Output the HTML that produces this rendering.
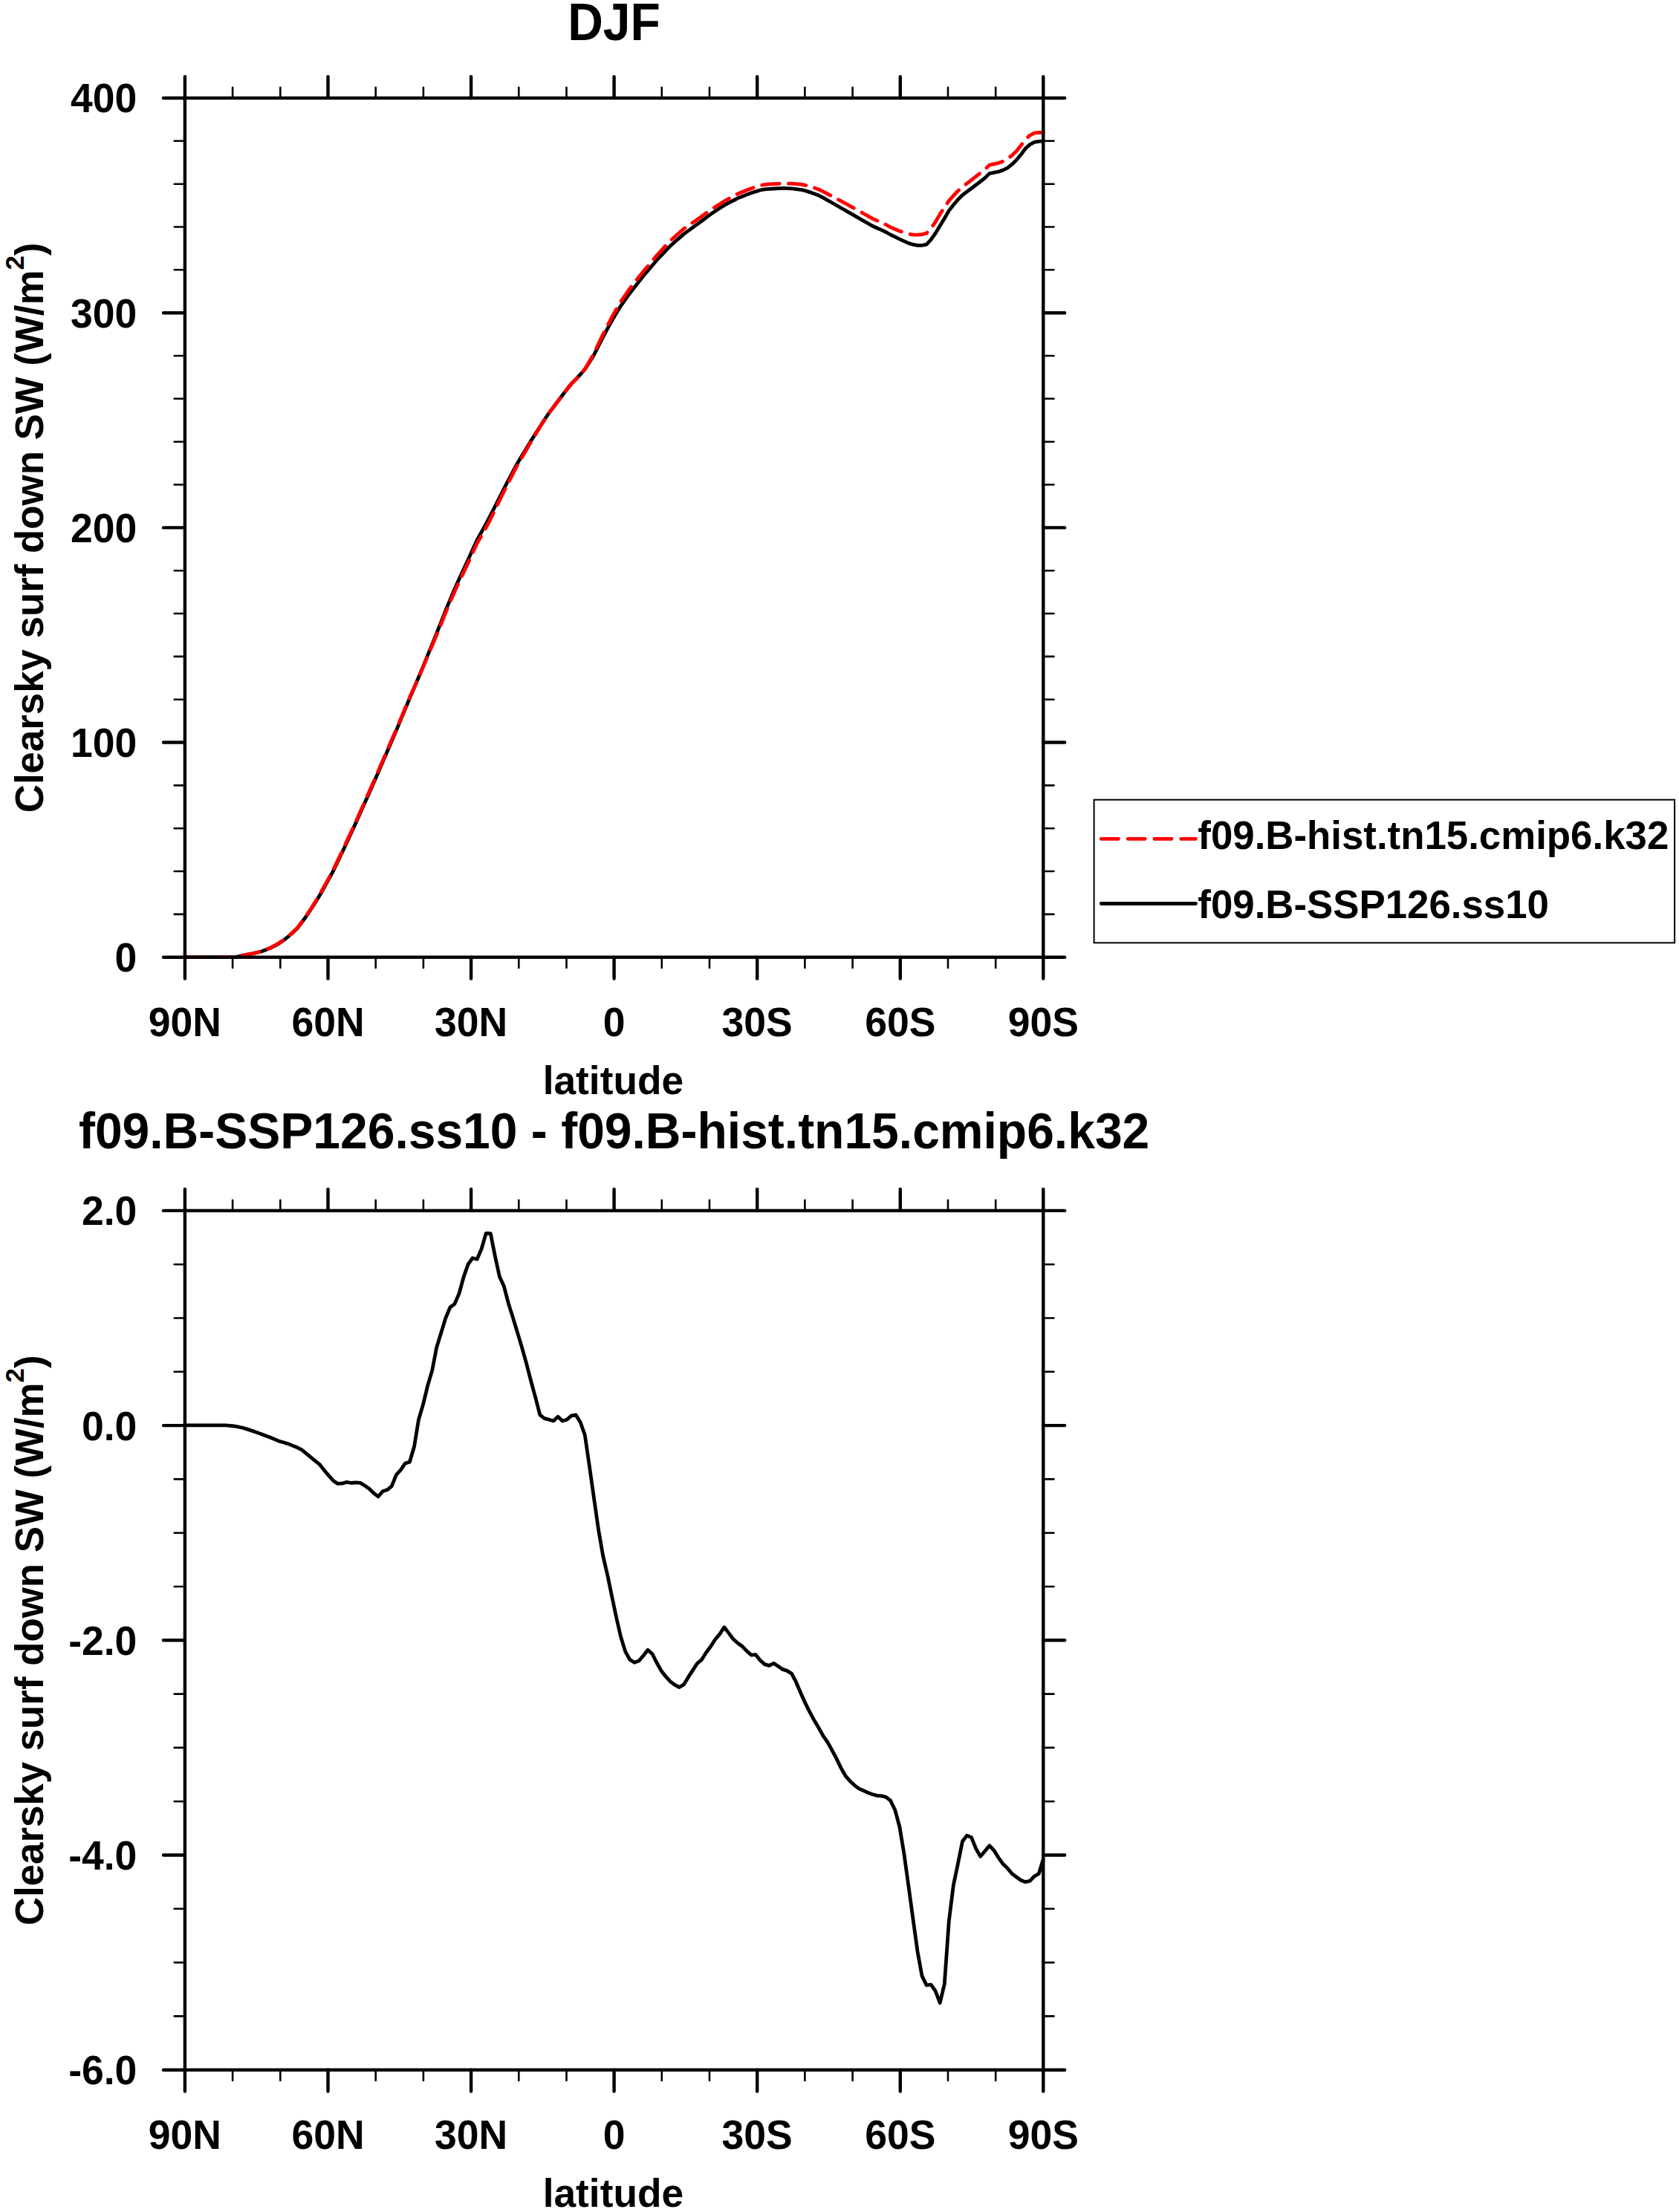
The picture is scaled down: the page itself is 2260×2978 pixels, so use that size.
<!DOCTYPE html>
<html><head><meta charset="utf-8"><title>DJF</title>
<style>
html,body{margin:0;padding:0;background:#fff}
svg{display:block}
text{font-family:"Liberation Sans",Arial,Helvetica,sans-serif;font-weight:bold;fill:#000}
.t{font-size:53.5px}
.h{font-size:66px}
</style></head><body>
<svg width="2260" height="2978" viewBox="0 0 2260 2978">
<rect width="2260" height="2978" fill="#fff"/>
<text transform="translate(826.5 53.9) scale(0.939 1)" font-size="70.3px" text-anchor="middle">DJF</text>
<polyline fill="none" stroke="#000" stroke-width="4.8" stroke-linejoin="round" stroke-linecap="butt" points="248.9,1288.7 255.0,1288.7 261.0,1288.7 267.1,1288.7 273.1,1288.7 279.2,1288.7 285.2,1288.7 291.3,1288.7 297.3,1288.7 303.4,1288.7 309.4,1288.7 315.5,1288.6 321.5,1287.7 327.6,1286.2 333.6,1285.0 339.7,1283.9 345.7,1282.5 351.8,1281.0 357.8,1278.8 363.9,1276.3 369.9,1273.3 376.0,1269.8 382.0,1265.7 388.1,1260.8 394.1,1255.6 400.2,1249.8 406.2,1241.7 412.3,1233.5 418.3,1224.5 424.4,1215.1 430.4,1205.2 436.5,1194.5 442.5,1183.7 448.6,1172.5 454.6,1159.9 460.7,1147.3 466.7,1134.4 472.8,1121.3 478.8,1108.2 484.9,1094.6 490.9,1081.0 497.0,1067.4 503.0,1053.8 509.1,1040.0 515.1,1025.9 521.2,1011.8 527.2,997.7 533.3,983.6 539.3,969.2 545.4,954.6 551.4,940.1 557.5,926.0 563.5,911.8 569.6,897.1 575.6,882.3 581.7,867.5 587.7,852.7 593.8,837.4 599.8,822.0 605.9,807.4 611.9,793.3 618.0,779.5 624.0,766.6 630.1,753.6 636.1,740.1 642.1,727.1 648.2,716.2 654.2,705.1 660.3,693.5 666.3,681.9 672.4,669.8 678.4,657.7 684.5,646.0 690.5,634.8 696.6,623.5 702.6,613.5 708.7,603.6 714.7,593.6 720.8,583.9 726.8,574.5 732.9,565.0 738.9,556.1 745.0,548.0 751.0,540.0 757.1,532.0 763.1,524.1 769.2,516.4 775.2,510.4 781.3,504.0 787.3,497.1 793.4,487.6 799.4,478.0 805.5,465.9 811.5,454.1 817.6,442.6 823.6,431.8 829.7,421.4 835.7,411.8 841.8,403.2 847.8,394.7 853.9,387.0 859.9,379.2 866.0,371.6 872.0,364.4 878.1,357.2 884.1,350.2 890.2,343.8 896.2,337.3 902.3,331.0 908.3,325.7 914.4,320.4 920.4,315.1 926.5,310.6 932.5,306.3 938.6,301.9 944.6,297.5 950.7,292.9 956.7,288.3 962.8,284.2 968.8,280.3 974.9,276.4 980.9,273.1 987.0,270.0 993.0,266.8 999.1,264.4 1005.1,262.1 1011.2,259.8 1017.2,257.9 1023.2,256.0 1029.3,254.9 1035.3,254.4 1041.4,254.0 1047.4,253.7 1053.5,253.5 1059.5,253.6 1065.6,253.9 1071.6,254.6 1077.7,255.3 1083.7,256.7 1089.8,258.6 1095.8,260.8 1101.9,263.1 1107.9,266.2 1114.0,269.6 1120.0,273.0 1126.1,276.5 1132.1,280.0 1138.2,283.4 1144.2,286.9 1150.3,290.4 1156.3,293.9 1162.4,297.3 1168.4,300.8 1174.5,304.3 1180.5,307.0 1186.6,309.6 1192.6,312.5 1198.7,316.0 1204.7,318.9 1210.8,321.8 1216.8,324.6 1222.9,327.4 1228.9,329.2 1235.0,330.4 1241.0,330.4 1247.1,329.1 1253.1,322.7 1259.2,314.0 1265.2,303.9 1271.3,294.0 1277.3,283.6 1283.4,275.7 1289.4,268.8 1295.5,262.7 1301.5,258.1 1307.6,253.5 1313.6,249.0 1319.7,244.4 1325.7,239.6 1331.8,233.6 1337.8,232.3 1343.9,231.1 1349.9,229.1 1356.0,226.1 1362.0,221.4 1368.1,215.5 1374.1,208.3 1380.2,200.0 1386.2,194.6 1392.3,191.3 1398.3,190.4 1404.3,190.2"/>
<polyline fill="none" stroke="#f00" stroke-width="4.8" stroke-linejoin="round" stroke-linecap="round" stroke-dasharray="23.6 12.2" stroke-dashoffset="-5.5" points="248.9,1288.7 255.0,1288.7 261.0,1288.7 267.1,1288.7 273.1,1288.7 279.2,1288.7 285.2,1288.7 291.3,1288.7 297.3,1288.7 303.4,1288.7 309.4,1288.7 315.5,1288.5 321.5,1287.7 327.6,1286.2 333.6,1284.9 339.7,1283.8 345.7,1282.3 351.8,1280.8 357.8,1278.5 363.9,1276.0 369.9,1272.9 376.0,1269.3 382.0,1265.3 388.1,1260.3 394.1,1255.1 400.2,1249.2 406.2,1241.1 412.3,1232.8 418.3,1223.7 424.4,1214.1 430.4,1204.1 436.5,1193.2 442.5,1182.3 448.6,1171.1 454.6,1158.4 460.7,1145.8 466.7,1132.8 472.8,1119.8 478.8,1106.7 484.9,1093.1 490.9,1079.4 497.0,1065.7 503.0,1052.0 509.1,1038.1 515.1,1024.2 521.2,1010.1 527.2,996.1 533.3,982.3 539.3,968.0 545.4,953.5 551.4,939.1 557.5,925.4 563.5,912.0 569.6,897.7 575.6,883.4 581.7,869.0 587.7,854.8 593.8,839.9 599.8,824.9 605.9,810.5 611.9,796.6 618.0,783.1 624.0,770.6 630.1,757.9 636.1,744.6 642.1,731.6 648.2,721.0 654.2,710.3 660.3,698.7 666.3,686.5 672.4,673.8 678.4,661.5 684.5,649.3 690.5,637.7 696.6,626.0 702.6,615.6 708.7,605.2 714.7,594.8 720.8,584.7 726.8,574.7 732.9,565.2 738.9,556.2 745.0,548.2 751.0,540.3 757.1,532.1 763.1,524.3 769.2,516.7 775.2,510.7 781.3,504.1 787.3,496.9 793.4,486.5 799.4,476.0 805.5,463.1 811.5,450.6 817.6,438.6 823.6,427.2 829.7,416.2 835.7,406.1 841.8,397.1 847.8,388.4 853.9,380.6 859.9,372.9 866.0,365.4 872.0,358.4 878.1,351.1 884.1,343.8 890.2,337.2 896.2,330.6 902.3,324.1 908.3,318.7 914.4,313.3 920.4,308.1 926.5,303.9 932.5,299.7 938.6,295.5 944.6,291.2 950.7,286.8 956.7,282.4 962.8,278.5 968.8,274.7 974.9,270.9 980.9,267.5 987.0,264.2 993.0,261.0 999.1,258.5 1005.1,256.1 1011.2,253.7 1017.2,251.7 1023.2,249.7 1029.3,248.5 1035.3,247.9 1041.4,247.6 1047.4,247.3 1053.5,247.0 1059.5,247.0 1065.6,247.2 1071.6,247.7 1077.7,248.1 1083.7,249.3 1089.8,250.9 1095.8,252.8 1101.9,255.0 1107.9,257.8 1114.0,261.0 1120.0,264.3 1126.1,267.5 1132.1,270.7 1138.2,274.0 1144.2,277.3 1150.3,280.7 1156.3,284.1 1162.4,287.5 1168.4,290.9 1174.5,294.4 1180.5,297.0 1186.6,299.6 1192.6,302.5 1198.7,305.9 1204.7,308.5 1210.8,311.0 1216.8,313.1 1222.9,315.0 1228.9,315.9 1235.0,316.2 1241.0,315.6 1247.1,314.0 1253.1,307.6 1259.2,298.7 1265.2,288.4 1271.3,279.0 1277.3,270.3 1283.4,263.4 1289.4,257.0 1295.5,251.5 1301.5,247.0 1307.6,242.4 1313.6,237.6 1319.7,232.8 1325.7,228.1 1331.8,222.2 1337.8,220.9 1343.9,219.5 1349.9,217.3 1356.0,214.1 1362.0,209.3 1368.1,203.4 1374.1,196.0 1380.2,187.7 1386.2,182.3 1392.3,179.2 1398.3,178.4 1404.3,178.5"/>
<g stroke="#000" stroke-linecap="round" fill="none">
<rect x="248.9" y="132.0" width="1155.4" height="1156.7" stroke-width="4.4" stroke-linejoin="miter"/>
<path stroke-width="4.4" d="M248.9 1288.7v28.9M248.9 132.0v-28.9M441.5 1288.7v28.9M441.5 132.0v-28.9M634.1 1288.7v28.9M634.1 132.0v-28.9M826.6 1288.7v28.9M826.6 132.0v-28.9M1019.2 1288.7v28.9M1019.2 132.0v-28.9M1211.8 1288.7v28.9M1211.8 132.0v-28.9M1404.3 1288.7v28.9M1404.3 132.0v-28.9M248.9 132.0h-28.9M1404.3 132.0h28.9M248.9 421.2h-28.9M1404.3 421.2h28.9M248.9 710.4h-28.9M1404.3 710.4h28.9M248.9 999.5h-28.9M1404.3 999.5h28.9M248.9 1288.7h-28.9M1404.3 1288.7h28.9"/>
<path stroke-width="2.6" d="M313.1 1288.7v14.2M313.1 132.0v-14.2M377.3 1288.7v14.2M377.3 132.0v-14.2M505.7 1288.7v14.2M505.7 132.0v-14.2M569.9 1288.7v14.2M569.9 132.0v-14.2M698.3 1288.7v14.2M698.3 132.0v-14.2M762.5 1288.7v14.2M762.5 132.0v-14.2M890.8 1288.7v14.2M890.8 132.0v-14.2M955.0 1288.7v14.2M955.0 132.0v-14.2M1083.4 1288.7v14.2M1083.4 132.0v-14.2M1147.6 1288.7v14.2M1147.6 132.0v-14.2M1276.0 1288.7v14.2M1276.0 132.0v-14.2M1340.2 1288.7v14.2M1340.2 132.0v-14.2M248.9 189.8h-14.2M1404.3 189.8h14.2M248.9 247.7h-14.2M1404.3 247.7h14.2M248.9 305.5h-14.2M1404.3 305.5h14.2M248.9 363.3h-14.2M1404.3 363.3h14.2M248.9 479.0h-14.2M1404.3 479.0h14.2M248.9 536.8h-14.2M1404.3 536.8h14.2M248.9 594.7h-14.2M1404.3 594.7h14.2M248.9 652.5h-14.2M1404.3 652.5h14.2M248.9 768.2h-14.2M1404.3 768.2h14.2M248.9 826.0h-14.2M1404.3 826.0h14.2M248.9 883.9h-14.2M1404.3 883.9h14.2M248.9 941.7h-14.2M1404.3 941.7h14.2M248.9 1057.4h-14.2M1404.3 1057.4h14.2M248.9 1115.2h-14.2M1404.3 1115.2h14.2M248.9 1173.0h-14.2M1404.3 1173.0h14.2M248.9 1230.9h-14.2M1404.3 1230.9h14.2"/>
</g>
<g class="t">
<text transform="translate(184.3 151.4) scale(0.9579 1)" font-size="55.85px" text-anchor="end">400</text>
<text transform="translate(184.3 440.6) scale(0.9579 1)" font-size="55.85px" text-anchor="end">300</text>
<text transform="translate(184.3 729.8) scale(0.9579 1)" font-size="55.85px" text-anchor="end">200</text>
<text transform="translate(184.3 1018.9) scale(0.9579 1)" font-size="55.85px" text-anchor="end">100</text>
<text transform="translate(184.3 1308.1) scale(0.9579 1)" font-size="55.85px" text-anchor="end">0</text>
<text transform="translate(248.9 1395.1) scale(0.9579 1)" font-size="55.85px" text-anchor="middle">90N</text>
<text transform="translate(441.5 1395.1) scale(0.9579 1)" font-size="55.85px" text-anchor="middle">60N</text>
<text transform="translate(634.1 1395.1) scale(0.9579 1)" font-size="55.85px" text-anchor="middle">30N</text>
<text transform="translate(826.6 1395.1) scale(0.9579 1)" font-size="55.85px" text-anchor="middle">0</text>
<text transform="translate(1019.2 1395.1) scale(0.9579 1)" font-size="55.85px" text-anchor="middle">30S</text>
<text transform="translate(1211.8 1395.1) scale(0.9579 1)" font-size="55.85px" text-anchor="middle">60S</text>
<text transform="translate(1404.3 1395.1) scale(0.9579 1)" font-size="55.85px" text-anchor="middle">90S</text>
<text x="825.4" y="1473.0" font-size="53.3px" text-anchor="middle">latitude</text>
<text transform="translate(58.2 710.4) rotate(-90) scale(0.9709 1)" font-size="54.4px" text-anchor="middle">Clearsky surf down SW (W/m<tspan dy="-26" font-size="36px">2</tspan><tspan dy="26">)</tspan></text>
</g>
<rect x="1472.6" y="1076.7" width="781.5" height="192.6" fill="#fff" stroke="#000" stroke-width="2"/>
<path d="M1482.3 1129.3H1609.5" stroke="#f00" stroke-width="4.8" stroke-linecap="round" stroke-dasharray="23.2 12.6" fill="none"/>
<path d="M1482.3 1216.5H1609.5" stroke="#000" stroke-width="4.8" stroke-linecap="round" fill="none"/>
<g font-size="54.4px"><text transform="translate(1612.3 1143.2) scale(0.9709 1)">f09.B-hist.tn15.cmip6.k32</text><text transform="translate(1612.3 1235.5) scale(0.9709 1)">f09.B-SSP126.ss10</text></g>
<text transform="translate(826.6 1546) scale(0.9709 1)" font-size="67.98px" text-anchor="middle">f09.B-SSP126.ss10 - f09.B-hist.tn15.cmip6.k32</text>
<polyline fill="none" stroke="#000" stroke-width="4.8" stroke-linejoin="round" stroke-linecap="butt" points="248.9,1918.8 255.0,1918.8 261.0,1918.8 267.1,1918.8 273.1,1918.8 279.2,1918.8 285.2,1918.8 291.3,1918.8 297.3,1918.8 303.4,1918.9 309.4,1919.4 315.5,1920.0 321.5,1921.2 327.6,1922.5 333.6,1924.4 339.7,1926.4 345.7,1928.5 351.8,1930.7 357.8,1933.0 363.9,1935.3 369.9,1937.8 376.0,1940.4 382.0,1942.0 388.1,1943.9 394.1,1946.4 400.2,1948.8 406.2,1951.9 412.3,1956.8 418.3,1961.9 424.4,1966.8 430.4,1971.7 436.5,1979.5 442.5,1986.6 448.6,1993.4 454.6,1997.4 460.7,1997.2 466.7,1995.3 472.8,1996.5 478.8,1995.9 484.9,1996.4 490.9,2000.0 497.0,2004.3 503.0,2010.2 509.1,2014.8 515.1,2007.7 521.2,2005.8 527.2,2000.8 533.3,1985.7 539.3,1979.2 545.4,1970.1 551.4,1968.3 557.5,1947.8 563.5,1911.2 569.6,1890.6 575.6,1865.6 581.7,1845.1 587.7,1814.0 593.8,1794.3 599.8,1774.6 605.9,1760.0 611.9,1755.6 618.0,1741.4 624.0,1719.5 630.1,1702.1 636.1,1693.7 642.1,1695.3 648.2,1681.2 654.2,1660.4 660.3,1660.7 666.3,1690.7 672.4,1718.7 678.4,1731.8 684.5,1755.1 690.5,1774.1 696.6,1794.4 702.6,1814.3 708.7,1836.1 714.7,1859.4 720.8,1881.7 726.8,1904.9 732.9,1909.7 738.9,1911.2 745.0,1913.0 751.0,1907.2 757.1,1913.0 763.1,1911.3 769.2,1905.8 775.2,1905.0 781.3,1915.0 787.3,1932.0 793.4,1974.0 799.4,2016.4 805.5,2059.0 811.5,2093.9 817.6,2120.0 823.6,2149.0 829.7,2178.0 835.7,2204.0 841.8,2223.6 847.8,2234.3 853.9,2238.3 859.9,2236.1 866.0,2229.0 872.0,2221.3 878.1,2226.8 884.1,2238.8 890.2,2249.5 896.2,2257.2 902.3,2263.8 908.3,2268.3 914.4,2271.5 920.4,2267.9 926.5,2257.9 932.5,2248.6 938.6,2239.3 944.6,2234.3 950.7,2224.5 956.7,2216.5 962.8,2207.0 968.8,2199.9 974.9,2190.7 980.9,2198.6 987.0,2206.7 993.0,2212.0 999.1,2216.5 1005.1,2222.7 1011.2,2228.1 1017.2,2227.7 1023.2,2235.2 1029.3,2240.6 1035.3,2242.4 1041.4,2239.3 1047.4,2243.3 1053.5,2247.4 1059.5,2249.4 1065.6,2253.1 1071.6,2264.7 1077.7,2279.0 1083.7,2292.4 1089.8,2304.7 1095.8,2315.8 1101.9,2326.0 1107.9,2336.8 1114.0,2345.6 1120.0,2356.3 1126.1,2367.9 1132.1,2380.4 1138.2,2391.1 1144.2,2397.9 1150.3,2403.6 1156.3,2408.1 1162.4,2410.8 1168.4,2413.5 1174.5,2415.8 1180.5,2417.4 1186.6,2417.9 1192.6,2419.3 1198.7,2424.2 1204.7,2436.7 1210.8,2459.0 1216.8,2495.2 1222.9,2539.0 1228.9,2583.0 1235.0,2627.2 1241.0,2660.1 1247.1,2672.6 1253.1,2671.9 1259.2,2680.6 1265.2,2696.5 1271.3,2671.0 1277.3,2586.5 1283.4,2537.8 1289.4,2509.2 1295.5,2479.0 1301.5,2471.1 1307.6,2473.8 1313.6,2488.6 1319.7,2499.3 1325.7,2492.2 1331.8,2484.7 1337.8,2491.0 1343.9,2500.8 1349.9,2509.2 1356.0,2515.1 1362.0,2522.3 1368.1,2527.0 1374.1,2531.3 1380.2,2533.7 1386.2,2532.3 1392.3,2526.0 1398.3,2522.5 1404.3,2502.9"/>
<g stroke="#000" stroke-linecap="round" fill="none">
<rect x="248.9" y="1629.9" width="1155.4" height="1156.8" stroke-width="4.4" stroke-linejoin="miter"/>
<path stroke-width="4.4" d="M248.9 2786.7v28.9M248.9 1629.9v-28.9M441.5 2786.7v28.9M441.5 1629.9v-28.9M634.1 2786.7v28.9M634.1 1629.9v-28.9M826.6 2786.7v28.9M826.6 1629.9v-28.9M1019.2 2786.7v28.9M1019.2 1629.9v-28.9M1211.8 2786.7v28.9M1211.8 1629.9v-28.9M1404.3 2786.7v28.9M1404.3 1629.9v-28.9M248.9 1629.9h-28.9M1404.3 1629.9h28.9M248.9 1919.1h-28.9M1404.3 1919.1h28.9M248.9 2208.3h-28.9M1404.3 2208.3h28.9M248.9 2497.5h-28.9M1404.3 2497.5h28.9M248.9 2786.7h-28.9M1404.3 2786.7h28.9"/>
<path stroke-width="2.6" d="M313.1 2786.7v14.2M313.1 1629.9v-14.2M377.3 2786.7v14.2M377.3 1629.9v-14.2M505.7 2786.7v14.2M505.7 1629.9v-14.2M569.9 2786.7v14.2M569.9 1629.9v-14.2M698.3 2786.7v14.2M698.3 1629.9v-14.2M762.5 2786.7v14.2M762.5 1629.9v-14.2M890.8 2786.7v14.2M890.8 1629.9v-14.2M955.0 2786.7v14.2M955.0 1629.9v-14.2M1083.4 2786.7v14.2M1083.4 1629.9v-14.2M1147.6 2786.7v14.2M1147.6 1629.9v-14.2M1276.0 2786.7v14.2M1276.0 1629.9v-14.2M1340.2 2786.7v14.2M1340.2 1629.9v-14.2M248.9 1702.2h-14.2M1404.3 1702.2h14.2M248.9 1774.5h-14.2M1404.3 1774.5h14.2M248.9 1846.8h-14.2M1404.3 1846.8h14.2M248.9 1991.4h-14.2M1404.3 1991.4h14.2M248.9 2063.7h-14.2M1404.3 2063.7h14.2M248.9 2136.0h-14.2M1404.3 2136.0h14.2M248.9 2280.6h-14.2M1404.3 2280.6h14.2M248.9 2352.9h-14.2M1404.3 2352.9h14.2M248.9 2425.2h-14.2M1404.3 2425.2h14.2M248.9 2569.8h-14.2M1404.3 2569.8h14.2M248.9 2642.1h-14.2M1404.3 2642.1h14.2M248.9 2714.4h-14.2M1404.3 2714.4h14.2"/>
</g>
<g class="t">
<text transform="translate(184.3 1649.3) scale(0.9579 1)" font-size="55.85px" text-anchor="end">2.0</text>
<text transform="translate(184.3 1938.5) scale(0.9579 1)" font-size="55.85px" text-anchor="end">0.0</text>
<text transform="translate(184.3 2227.7) scale(0.9579 1)" font-size="55.85px" text-anchor="end">-2.0</text>
<text transform="translate(184.3 2516.9) scale(0.9579 1)" font-size="55.85px" text-anchor="end">-4.0</text>
<text transform="translate(184.3 2806.1) scale(0.9579 1)" font-size="55.85px" text-anchor="end">-6.0</text>
<text transform="translate(248.9 2893.1) scale(0.9579 1)" font-size="55.85px" text-anchor="middle">90N</text>
<text transform="translate(441.5 2893.1) scale(0.9579 1)" font-size="55.85px" text-anchor="middle">60N</text>
<text transform="translate(634.1 2893.1) scale(0.9579 1)" font-size="55.85px" text-anchor="middle">30N</text>
<text transform="translate(826.6 2893.1) scale(0.9579 1)" font-size="55.85px" text-anchor="middle">0</text>
<text transform="translate(1019.2 2893.1) scale(0.9579 1)" font-size="55.85px" text-anchor="middle">30S</text>
<text transform="translate(1211.8 2893.1) scale(0.9579 1)" font-size="55.85px" text-anchor="middle">60S</text>
<text transform="translate(1404.3 2893.1) scale(0.9579 1)" font-size="55.85px" text-anchor="middle">90S</text>
<text x="825.4" y="2971.1" font-size="53.3px" text-anchor="middle">latitude</text>
<text transform="translate(58.2 2208.3) rotate(-90) scale(0.9709 1)" font-size="54.4px" text-anchor="middle">Clearsky surf down SW (W/m<tspan dy="-26" font-size="36px">2</tspan><tspan dy="26">)</tspan></text>
</g>
</svg></body></html>
